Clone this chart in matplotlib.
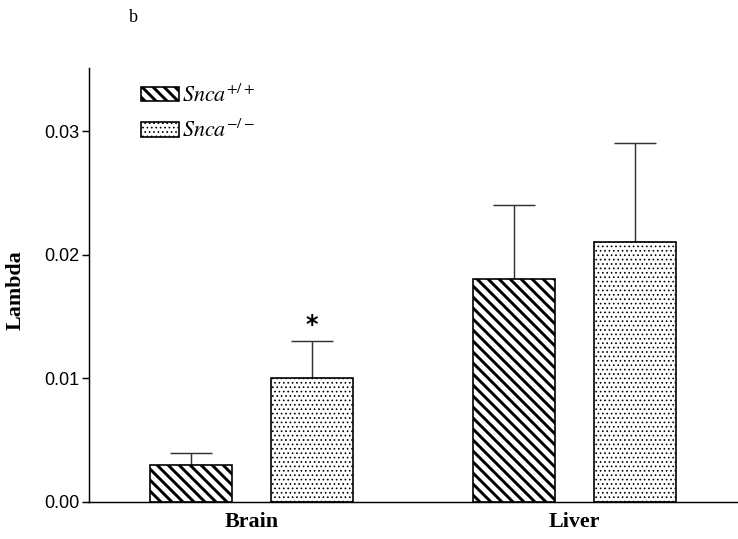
import matplotlib
matplotlib.use('Agg')
import matplotlib.pyplot as plt
import numpy as np

groups = ['Brain', 'Liver']
wt_mean = [0.003, 0.018]
wt_err = [0.001, 0.006]
ko_mean = [0.010, 0.021]
ko_err = [0.003, 0.008]
yticks = [0.00, 0.01, 0.02, 0.03]
ytick_labels = ['0.00', '0.01', '0.02', '0.03']

DPI = 132
BS = chr(92)  # backslash, for the diagonal hatch
plt.rcParams['mathtext.fontset'] = 'stix'
plt.rcParams['font.family'] = ['Liberation Sans', 'DejaVu Sans']
plt.rcParams['hatch.linewidth'] = 1.6

fig = plt.figure(figsize=(738 / DPI, 539 / DPI), dpi=DPI)
ax = fig.add_axes([89 / 738, 37 / 539, 649 / 738, 434 / 539])

x = np.arange(len(groups))
off, w = 0.188, 0.254

b1 = ax.bar(x - off, wt_mean, w, color='white', edgecolor='black', linewidth=0.9,
            hatch=BS * 4, label=r'$\mathit{Snca}^{+/+}$', zorder=2)
b2 = ax.bar(x + off, ko_mean, w, color='white', edgecolor='black', linewidth=0.9,
            hatch='.....', label=r'$\mathit{Snca}^{-/-}$', zorder=2)
for p in b2:
    if hasattr(p, 'set_hatch_linewidth'):
        p.set_hatch_linewidth(0.5)

zeros = np.zeros(len(groups))
ax.errorbar(x - off, wt_mean, yerr=[zeros, wt_err], fmt='none', ecolor='#333333',
            elinewidth=0.8, capsize=11.2, capthick=0.8, zorder=1)
ax.errorbar(x + off, ko_mean, yerr=[zeros, ko_err], fmt='none', ecolor='#333333',
            elinewidth=0.8, capsize=11.2, capthick=0.8, zorder=1)

# significance mark above brain knock-out
ax.text(x[0] + off, ko_mean[0] + ko_err[0] + 0.0013, '*', ha='center', va='center',
        fontsize=13, fontweight='bold', fontfamily='DejaVu Sans')

ax.set_xlim(-0.503, 1.506)
ax.set_ylim(0, 0.0351)
ax.set_yticks(yticks)
ax.set_yticklabels(ytick_labels, fontsize=9.8)
ax.set_xticks(x)
ax.set_xticklabels(groups, fontfamily='Liberation Serif', fontweight='bold', fontsize=12)
ax.tick_params(axis='x', length=0, pad=5.5)
ax.tick_params(axis='y', length=3.8, width=0.8, pad=1.6)

for s in ['top', 'right']:
    ax.spines[s].set_visible(False)
for s in ['left', 'bottom']:
    ax.spines[s].set_linewidth(0.8)

ax.set_ylabel('Lambda', fontfamily='Liberation Serif', fontweight='bold', fontsize=12)
ax.yaxis.set_label_coords(-0.097, 0.488)

leg = ax.legend(loc='upper left', bbox_to_anchor=(0.080, 0.963), frameon=False,
                fontsize=12, handlelength=1.73, handleheight=0.64, handletextpad=0.14,
                labelspacing=0.6, borderpad=0, borderaxespad=0)
h = leg.legend_handles[1]
if hasattr(h, 'set_hatch_linewidth'):
    h.set_hatch_linewidth(0.5)

fig.text(133 / 738, 1 - 17 / 539, 'b', fontfamily='Liberation Serif', fontsize=9.8,
         ha='center', va='center')

fig.savefig('out.png', dpi=DPI)
